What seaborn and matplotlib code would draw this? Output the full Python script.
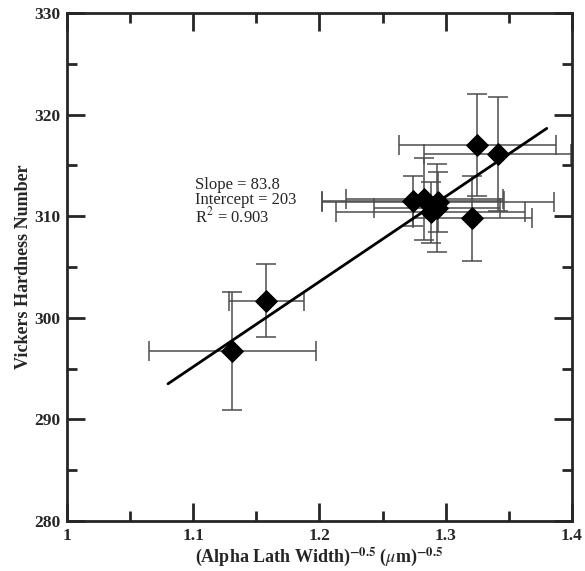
import numpy as np
import pandas as pd
import matplotlib
matplotlib.use('Agg')
import matplotlib.pyplot as plt
import seaborn as sns
from matplotlib.ticker import MultipleLocator

# Data
lath_x = [1.131, 1.158, 1.274, 1.283, 1.288, 1.293, 1.294, 1.321, 1.325, 1.341]
hardness = [296.7, 301.7, 311.5, 311.7, 310.4, 310.8, 311.4, 309.8, 317.0, 316.1]
x_err = [0.066, 0.030, 0.072, 0.062, 0.075, 0.050, 0.092, 0.047, 0.062, 0.058]
y_err = [5.8, 3.6, 2.5, 4.0, 3.0, 4.3, 3.0, 4.2, 5.0, 5.6]

x_ticks = [1.0, 1.1, 1.2, 1.3, 1.4]
x_tick_labels = ['1', '1.1', '1.2', '1.3', '1.4']
y_ticks = [280, 290, 300, 310, 320, 330]

slope = 83.8
intercept = 203
r_squared = 0.903
fit_range = [1.08, 1.38]

df = pd.DataFrame({'x': lath_x, 'y': hardness})
fit_df = pd.DataFrame({'x': fit_range})
fit_df['y'] = slope * fit_df['x'] + intercept

sns.set_style('ticks')
plt.rcParams['font.family'] = ['Liberation Serif', 'DejaVu Serif']
plt.rcParams['mathtext.fontset'] = 'stix'

fig = plt.figure(figsize=(5.85, 5.71), dpi=100)
ax = fig.add_axes([0.1145, 0.0876, 0.8633, 0.8896])

# error bars
ax.errorbar(df['x'], df['y'], xerr=x_err, yerr=y_err, fmt='none',
            ecolor='0.3', elinewidth=1.1, capsize=7, capthick=1.1, zorder=2)

# fit line
sns.lineplot(data=fit_df, x='x', y='y', color='black', linewidth=2, ax=ax, zorder=3)

# points
sns.scatterplot(data=df, x='x', y='y', marker='D', s=120, color='black',
                edgecolor='black', ax=ax, zorder=4)

ax.text(1.101, 313.1, 'Slope = %.1f' % slope, fontsize=12, va='center')
ax.text(1.101, 311.6, 'Intercept = %d' % intercept, fontsize=12, va='center')
ax.text(1.101, 310.0, 'R$^2$ = %.3f' % r_squared, fontsize=12, va='center')

ax.set_xlim(1, 1.4)
ax.set_ylim(280, 330)
ax.set_xticks(x_ticks)
ax.set_xticklabels(x_tick_labels)
ax.set_yticks(y_ticks)
ax.xaxis.set_minor_locator(MultipleLocator(0.05))
ax.yaxis.set_minor_locator(MultipleLocator(5))
ax.tick_params(which='both', direction='in', top=True, right=True, width=2,
               labelsize=12.5)
ax.tick_params(which='major', length=13, pad=5)
ax.tick_params(which='minor', length=7)
for lbl in ax.get_xticklabels() + ax.get_yticklabels():
    lbl.set_fontweight('bold')
for sp in ax.spines.values():
    sp.set_linewidth(2)

ax.set_xlabel(r'(Alpha Lath Width)$^{\mathbf{-0.5}}$ ($\mu$m)$^{\mathbf{-0.5}}$',
              fontsize=13, fontweight='bold', labelpad=1)
ax.set_ylabel('Vickers Hardness Number', fontsize=13, fontweight='bold', labelpad=1)

fig.savefig('out.png', dpi=100)
